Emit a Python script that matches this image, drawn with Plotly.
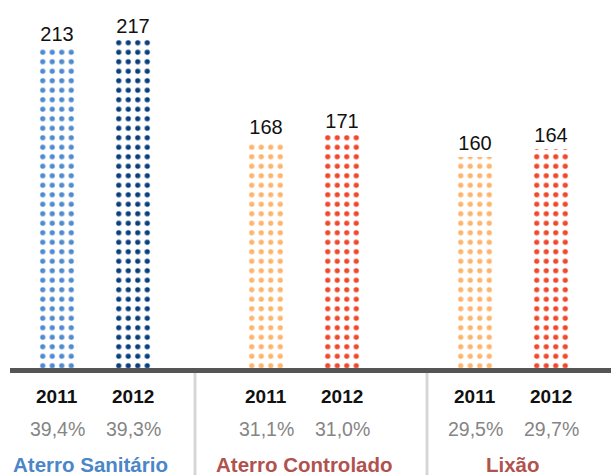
import plotly.graph_objects as go

# ---- data ----
categories = ["Aterro Sanitário", "Aterro Controlado", "Lixão"]
years = ["2011", "2012"]
values_2011 = [213, 168, 160]
values_2012 = [217, 171, 164]
share_2011 = ["39,4%", "31,1%", "29,5%"]
share_2012 = ["39,3%", "31,0%", "29,7%"]

# ---- style ----
colors_2011 = ["#4e8bd0", "#fdb46c", "#fdb46c"]
colors_2012 = ["#0a3f7d", "#f0482b", "#f0482b"]
label_colors = ["#4a86c8", "#b0524e", "#b0524e"]
FONT = "Liberation Sans, Arial, Helvetica, sans-serif"

W, H = 611, 475
PLOT_H = 368
TILE = 9.5                  # dot pattern tile (px)
GROUP_PX = 22 * TILE        # pixels per group unit
OFFSET = 4 / 22             # bar offset from group centre (units)
BAR_W = 36 / GROUP_PX
X0 = -10 / 22
X1 = X0 + W / GROUP_PX

groups = list(range(len(categories)))

fig = go.Figure()
for vals, cols, sign in [(values_2011, colors_2011, -1), (values_2012, colors_2012, 1)]:
    fig.add_trace(go.Bar(
        x=[g + sign * OFFSET for g in groups],
        y=vals,
        width=BAR_W,
        marker=dict(
            color=cols,
            line=dict(width=0),
            pattern=dict(shape=".", size=TILE, solidity=0.24,
                         fgcolor=cols, bgcolor="rgba(0,0,0,0)", fillmode="replace"),
        ),
        text=[str(v) for v in vals],
        textposition="outside",
        constraintext="none",
        textfont=dict(size=20, color="#111111", family=FONT),
        showlegend=False,
        hoverinfo="skip",
    ))

annotations = []
for i, g in enumerate(groups):
    for sign, year, shares in [(-1, years[0], share_2011), (1, years[1], share_2012)]:
        annotations.append(dict(
            x=g + sign * OFFSET, xref="x", y=0, yref="paper", yshift=-28,
            yanchor="middle", xanchor="center", showarrow=False,
            text="<b>" + year + "</b>", font=dict(size=19, color="#111111", family=FONT)))
        annotations.append(dict(
            x=g + sign * OFFSET, xref="x", y=0, yref="paper", yshift=-61,
            yanchor="middle", xanchor="center", showarrow=False,
            text=shares[i], font=dict(size=19.5, color="#858585", family=FONT)))
    annotations.append(dict(
        x=g, xref="x", y=0, yref="paper", yshift=-96,
        yanchor="middle", xanchor="center", showarrow=False,
        xshift=-5 if i == 0 else 0,
        text="<b>" + categories[i] + "</b>",
        font=dict(size=20.5, color=label_colors[i], family=FONT)))

shapes = [
    dict(type="rect", xref="paper", x0=10 / W, x1=1, yref="paper",
         ysizemode="pixel", yanchor=0, y0=0, y1=-5,
         fillcolor="#555555", line=dict(width=0), layer="above"),
]
for xp in [195, 427]:
    shapes.append(dict(type="line", xref="paper", x0=xp / W, x1=xp / W, yref="paper",
                       ysizemode="pixel", yanchor=0, y0=-5, y1=-110,
                       line=dict(color="#d6d6d6", width=3)))

fig.update_layout(
    width=W, height=H,
    margin=dict(l=0, r=0, t=0, b=H - PLOT_H, pad=0),
    paper_bgcolor="white", plot_bgcolor="white",
    font=dict(family=FONT),
    bargap=0,
    xaxis=dict(range=[X0, X1], visible=False, fixedrange=True),
    yaxis=dict(range=[57.45, 236.6], visible=False, fixedrange=True),
    annotations=annotations,
    shapes=shapes,
)

fig.write_html(
    "out.html",
    config={"displayModeBar": False},
    post_script="document.body.style.margin='0px';document.body.style.overflow='hidden';",
)
